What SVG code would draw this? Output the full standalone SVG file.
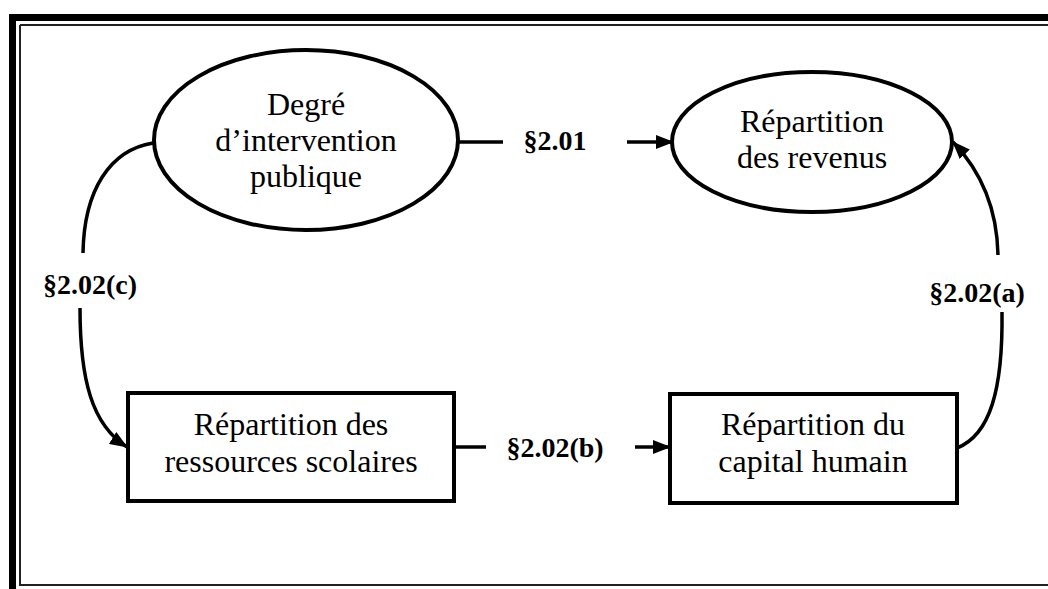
<svg xmlns="http://www.w3.org/2000/svg" width="1048" height="589" viewBox="0 0 1048 589">
<defs>
<marker id="ah" markerWidth="18" markerHeight="14" refX="17" refY="7" orient="auto" markerUnits="userSpaceOnUse"><path d="M0,0 L18,7 L0,14 Z" fill="#000"/></marker>
<style>
.node{fill:#fff;stroke:#000;stroke-width:4}
.t{font-family:"Liberation Serif","Times New Roman",serif;font-size:32px;fill:#000;text-anchor:middle}
.lbl{font-family:"Liberation Serif","Times New Roman",serif;font-size:28px;font-weight:bold;fill:#000;text-anchor:middle}
.c{fill:none;stroke:#000;stroke-width:3.5}
</style>
</defs>
<rect width="1048" height="589" fill="#fff"/>
<g id="frame">
<rect x="9" y="14" width="1039" height="7" fill="#000"/>
<rect x="9" y="14" width="7" height="575" fill="#000"/>
<path d="M20,25 H1048 M20,25 V585 H1048" fill="none" stroke="#222" stroke-width="2"/>
</g>
<g id="connectors">
<path class="c" d="M458,142 H503"/>
<path class="c" d="M627,142 H673" marker-end="url(#ah)"/>
<path class="c" d="M454,447 H486"/>
<path class="c" d="M635,447 H670" marker-end="url(#ah)"/>
<path class="c" d="M153,143 C110,150 84,190 83,253"/>
<path class="c" d="M80,308 C80,380 92,425 127,447" marker-end="url(#ah)"/>
<path class="c" d="M1002,312 C1003,390 990,435 957,448"/>
<path class="c" d="M998,255 C997,205 978,168 953,142" marker-end="url(#ah)"/>
<text class="lbl" x="555" y="150">§2.01</text>
<text class="lbl" x="555" y="457">§2.02(b)</text>
<text class="lbl" x="90" y="294">§2.02(c)</text>
<text class="lbl" x="977" y="302">§2.02(a)</text>
</g>
<g id="n1">
<ellipse class="node" cx="306" cy="140" rx="152" ry="90"/>
<text class="t" x="306" y="115">Degré</text>
<text class="t" x="306" y="151">d’intervention</text>
<text class="t" x="306" y="187">publique</text>
</g>
<g id="n2">
<ellipse class="node" cx="812" cy="142" rx="140" ry="70"/>
<text class="t" x="812" y="132">Répartition</text>
<text class="t" x="812" y="168">des revenus</text>
</g>
<g id="n3">
<rect class="node" x="128" y="393" width="326" height="108"/>
<text class="t" x="291" y="435">Répartition des</text>
<text class="t" x="291" y="472">ressources scolaires</text>
</g>
<g id="n4">
<rect class="node" x="670" y="394" width="287" height="109"/>
<text class="t" x="813" y="435">Répartition du</text>
<text class="t" x="813" y="472">capital humain</text>
</g>
</svg>
